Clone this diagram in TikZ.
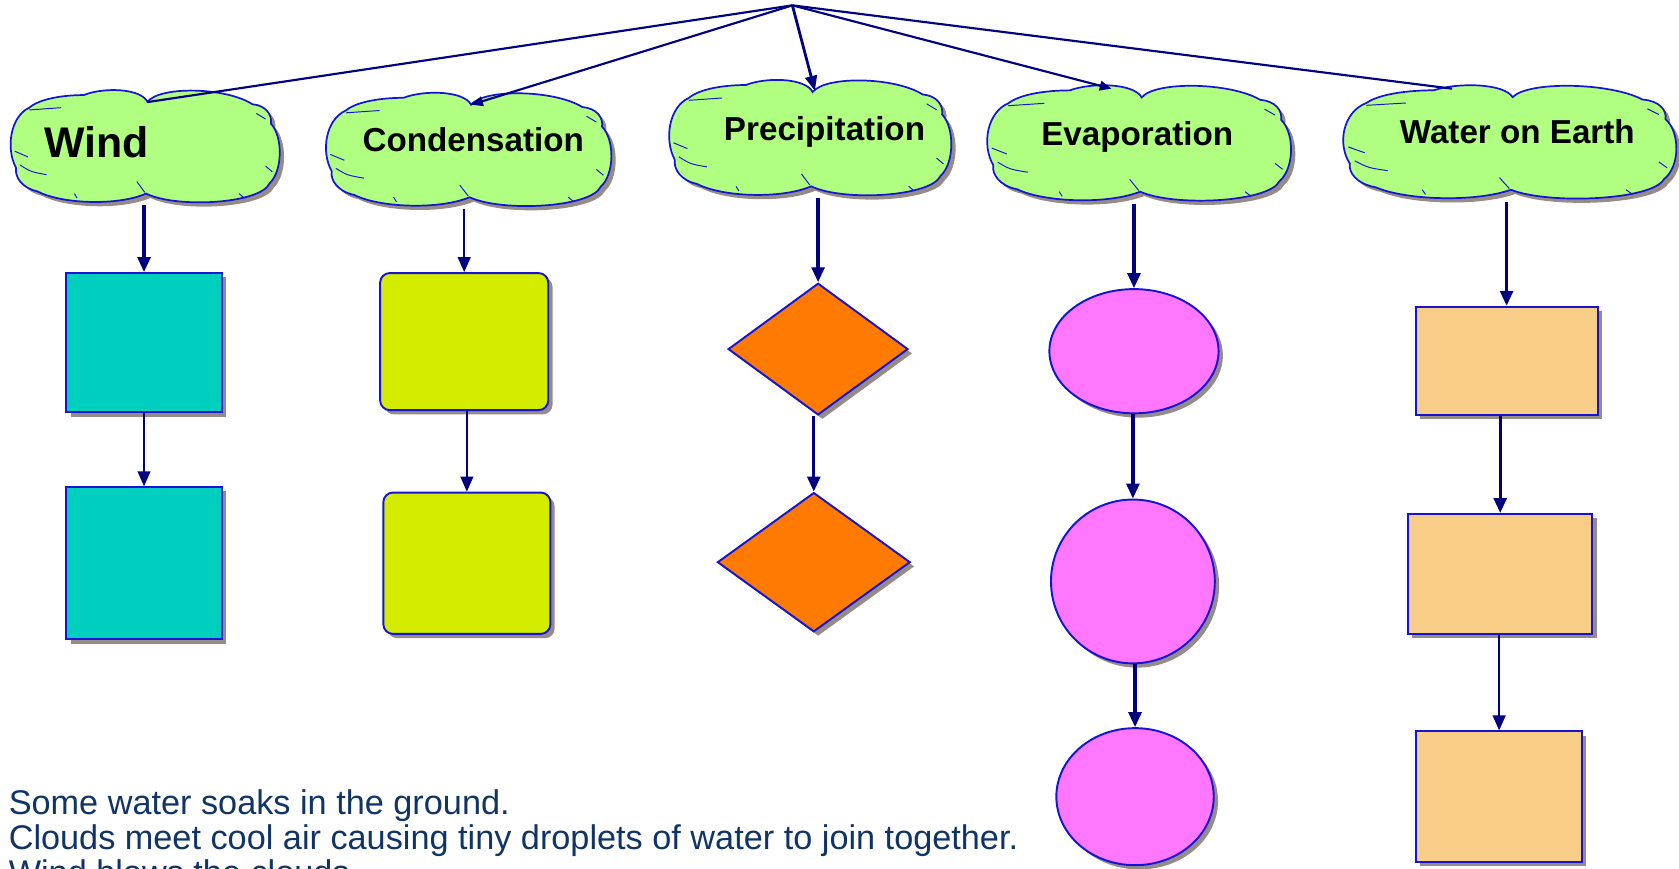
\documentclass[tikz,border=0pt]{standalone}
\usepackage{fontspec}
\setmainfont{Liberation Sans}
\usetikzlibrary{arrows.meta,shapes.geometric,shadows}

\definecolor{navyline}{RGB}{0,0,128}
\definecolor{edgeblue}{RGB}{20,20,210}
\definecolor{cloudgreen}{RGB}{176,255,128}
\definecolor{windfill}{RGB}{0,207,192}
\definecolor{condfill}{RGB}{212,236,0}
\definecolor{precfill}{RGB}{255,122,0}
\definecolor{evapfill}{RGB}{255,118,255}
\definecolor{earthfill}{RGB}{248,205,136}
\definecolor{shadowgray}{RGB}{150,140,135}
\definecolor{notetext}{RGB}{16,52,102}

% cloud outline in unit coordinates (x and y in [-1,1], y pointing down)
\def\cloudoutline{(0.03,-0.80)
  .. controls (0.12,-1.08) and (0.62,-1.06) .. (0.82,-0.76)
  .. controls (0.92,-0.74) and (0.97,-0.58) .. (0.96,-0.42)
  .. controls (1.05,-0.2) and (1.05,0.4) .. (0.95,0.62)
  .. controls (0.88,0.98) and (0.25,1.06) .. (0.02,0.80)
  .. controls (-0.2,1.02) and (-0.62,0.98) .. (-0.80,0.76)
  .. controls (-0.92,0.70) and (-0.97,0.5) .. (-0.96,0.35)
  .. controls (-1.04,0.0) and (-1.0,-0.55) .. (-0.86,-0.70)
  .. controls (-0.78,-0.86) and (-0.6,-0.92) .. (-0.45,-0.92)
  .. controls (-0.3,-1.06) and (-0.02,-1.04) .. (0.03,-0.80) -- cycle}
% little sketch strokes inside the cloud edge
\def\cloudstrokes{(-0.05,0.59) -- (0.01,0.78)
  (-0.86,-0.66) -- (-0.62,-0.70)
  (-0.97,0.06) -- (-0.87,0.16)
  (-0.93,0.30) .. controls (-0.85,0.42) .. (-0.73,0.47)
  (-0.52,0.80) -- (-0.50,0.88)
  (0.85,-0.60) -- (0.92,-0.50)
  (0.92,0.32) -- (0.97,0.42)
  (0.72,0.80) -- (0.76,0.88)}

% cloud body with its shadow: centre x, centre y, width, height
\newcommand\drawcloud[4]{%
  \fill[shadowgray, shift={({#1+4},{#2+4})}, xscale={#3/2}, yscale={#4/2}] \cloudoutline;
  \filldraw[fill=cloudgreen, draw=edgeblue, line width=1.6pt,
    shift={(#1,#2)}, xscale={#3/2}, yscale={#4/2}] \cloudoutline;
  \draw[edgeblue, line width=0.9pt, shift={(#1,#2)}, xscale={#3/2}, yscale={#4/2}] \cloudstrokes;
}

\tikzset{
  cloudbox/.style={rectangle, inner sep=0pt},
  cloudlabel/.style={inner sep=0pt, font=\fontsize{31}{31}\selectfont\bfseries},
  flow/.style={draw=edgeblue, line width=1.8pt, inner sep=0pt,
    drop shadow={shadow xshift=4pt, shadow yshift=-4pt, fill=shadowgray, opacity=1}},
  sqbox/.style={flow, rectangle},
  rbox/.style={flow, rectangle, rounded corners=9pt},
  dia/.style={flow, diamond},
  oval/.style={flow, ellipse},
  thickarr/.style={navyline, line width=3pt, -{Triangle[length=14pt,width=12pt]}},
  thinarr/.style={navyline, line width=1.5pt, -{Triangle[length=14pt,width=12pt]}},
  topline/.style={navyline, line width=2pt},
  toparr/.style={topline, -{Triangle[length=11pt,width=9pt]}},
}

\begin{document}
\begin{tikzpicture}[x=1pt,y=-1pt]
\useasboundingbox (0,0) rectangle (1568,811);

% clouds
\drawcloud{134}{138}{248}{107}
\drawcloud{436}{141}{263}{108}
\drawcloud{755}{130}{260}{110}
\drawcloud{1062}{135}{280}{110}
\drawcloud{1408}{134}{307}{108}

\node[cloudbox, minimum width=248, minimum height=107] (wind) at (134,138) {};
\node[cloudbox, minimum width=263, minimum height=108] (cond) at (436,141) {};
\node[cloudbox, minimum width=260, minimum height=110] (prec) at (755,130) {};
\node[cloudbox, minimum width=280, minimum height=110] (evap) at (1062,135) {};
\node[cloudbox, minimum width=307, minimum height=108] (earth) at (1408,134) {};

\node[cloudlabel, font=\fontsize{40}{40}\selectfont\bfseries] (windlbl) at (90,133) {Wind};
\node[cloudlabel] (condlbl) at (442,130) {Condensation};
\node[cloudlabel] (preclbl) at (770,123) {Precipitation};
\node[cloudlabel] (evaplbl) at (1062,128) {Evaporation};
\node[cloudlabel] (earthlbl) at (1417,123) {Water on Earth};

% lines from the common root
\coordinate (apex) at (740,5);
\draw[topline] (apex) -- ([shift={(4,11)}]wind.north);
\draw[toparr] (apex) -- ([shift={(4,11)}]cond.north);
\draw[toparr, line width=2.6pt, -{Triangle[length=14pt,width=11pt]}] (apex) -- ([shift={(6,10)}]prec.north);
\draw[toparr] (apex) -- ([shift={(-24,3)}]evap.north);
\draw[topline] (apex) -- ([shift={(-52,3)}]earth.north);

% columns of shapes
\node[sqbox, fill=windfill, minimum width=145, minimum height=130] (w1) at (134.5,320) {};
\node[sqbox, fill=windfill, minimum width=145, minimum height=142] (w2) at (134.5,526) {};

\node[rbox, fill=condfill, minimum width=157, minimum height=128] (c1) at (433.5,319) {};
\node[rbox, fill=condfill, minimum width=156, minimum height=132] (c2) at (436,526) {};

\node[dia, fill=precfill, minimum width=168, minimum height=123] (p1) at (764,326) {};
\node[dia, fill=precfill, minimum width=180, minimum height=130] (p2) at (760,525) {};

\node[oval, fill=evapfill, minimum width=158, minimum height=116] (e1) at (1059,328) {};
\node[oval, fill=evapfill, minimum width=153, minimum height=153] (e2) at (1058,543) {};
\node[oval, fill=evapfill, minimum width=147, minimum height=128] (e3) at (1060,744) {};

\node[sqbox, fill=earthfill, minimum width=170, minimum height=101] (g1) at (1407,337) {};
\node[sqbox, fill=earthfill, minimum width=172, minimum height=112] (g2) at (1401,536) {};
\node[sqbox, fill=earthfill, minimum width=155, minimum height=122] (g3) at (1400,744) {};

% arrows down each column
\draw[thickarr] (w1.north |- wind.south) -- (w1.north);
\draw[thinarr] (w2.north |- w1.south) -- (w2.north);

\draw[thinarr] (c1.north |- cond.south) -- (c1.north);
\draw[thinarr] (c2.north |- c1.south) -- (c2.north);

\draw[thickarr] (p1.north |- prec.south) -- (p1.north);
\draw[thickarr] (p2.north |- p1.south) -- (p2.north);

\draw[thickarr] (e1.north |- evap.south) -- (e1.north);
\draw[thickarr] (e2.north |- e1.south) -- (e2.north);
\draw[thickarr] (e3.north |- e2.south) -- (e3.north);

\draw[thickarr] (g1.north |- earth.south) -- (g1.north);
\draw[thickarr] (g2.north |- g1.south) -- (g2.north);
\draw[thinarr] (g3.north |- g2.south) -- (g3.north);

% notes
\node[anchor=north west, align=left, inner sep=0pt, text=notetext,
  font=\fontsize{32}{33}\selectfont] (notes) at (8,737)
  {Some water soaks in the ground.\\
   Clouds meet cool air causing tiny droplets of water to join together.\\
   Wind blows the clouds.};
\end{tikzpicture}
\end{document}
